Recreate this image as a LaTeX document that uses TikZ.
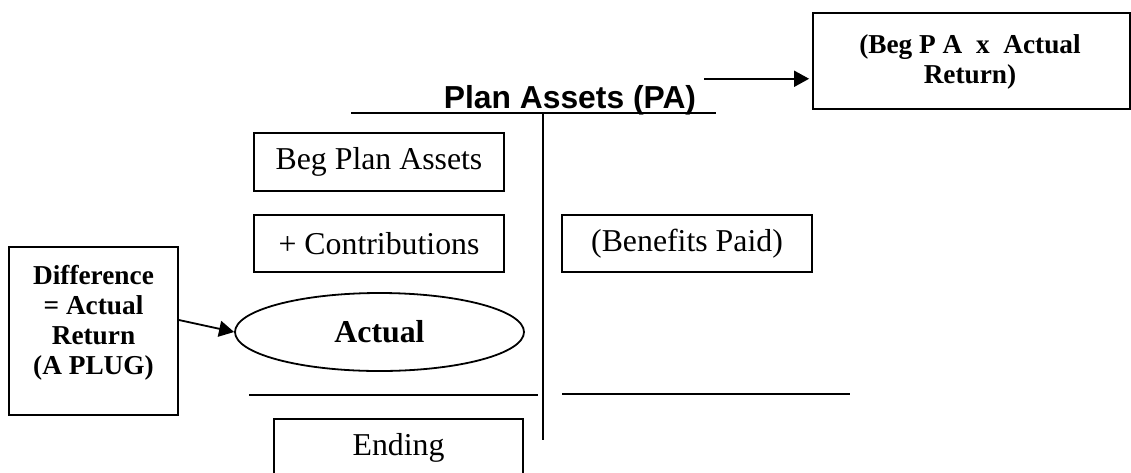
\documentclass[tikz,border=0pt]{standalone}
\usepackage{fontspec}
\setmainfont{Liberation Serif}
\setsansfont{Liberation Sans}
\usetikzlibrary{arrows.meta,shapes.geometric}
\begin{document}
\begin{tikzpicture}[x=1pt,y=-1pt,
  ink/.style={line width=1.8pt},
  entry/.style={draw, ink, rectangle, inner sep=0pt, minimum width=250pt,
    minimum height=58pt, font=\fontsize{31.8}{36}\selectfont},
  frame/.style={draw, ink, rectangle, inner sep=0pt},
  boldtxt/.style={font=\fontsize{27.3}{30}\selectfont\bfseries, align=center, inner sep=0pt},
  arr/.style={ink, -{Triangle[length=15pt,width=16pt]}},
  rulel/.style={line width=1.8pt}
]
\useasboundingbox (0,0) rectangle (1131,472);
\clip (0,0) rectangle (1131,472);
\fill[white] (0,0) rectangle (1131,472);

% T-account heading and rules
\node[font=\fontsize{31.8}{36}\selectfont\sffamily\bfseries, inner sep=0pt, anchor=base]
  (title) at (570,108) {Plan Assets (PA)};
\draw[rulel] (351,113) -- (716,113);
\draw[rulel] (543,113) -- (543,440);
\draw[rulel] (249,395) -- (538,395);
\draw[rulel] (562,394) -- (850,394);

% debit and credit entries
\node[entry] (beg) at (379,162) {Beg Plan Assets};
\node[entry, minimum height=57pt] (contrib) at (379,243.5) {+ Contributions};
\node[entry, minimum height=57pt] (benefits) at (687,243.5) {(Benefits Paid)};
\node[entry, minimum width=249pt] (ending) at (398.5,448) {Ending};

% actual return (the plug)
\node[draw, ink, ellipse, inner sep=0pt, minimum width=289pt, minimum height=78pt,
  font=\fontsize{31.8}{36}\selectfont\bfseries] (actual) at (379.5,332) {Actual};

% explanatory notes
\node[frame, minimum width=317pt, minimum height=96pt] (expret) at (971.5,61) {};
\node[boldtxt, anchor=north] (exptxt) at (970,34) {(Beg P A\ \ x\ \ Actual\\Return)};

\node[frame, minimum width=169pt, minimum height=168pt] (diff) at (93.5,331) {};
\node[boldtxt, anchor=north] (difftxt) at (93.5,265) {Difference\\= Actual\\Return\\(A PLUG)};

% connectors
\draw[arr, shorten >=11pt] ([xshift=8pt,yshift=6pt]title.north east)
  -- ([xshift=8pt,yshift=6pt]title.north east -| expret.west);
\draw[arr] ([yshift=11pt]diff.east) -- (actual.west);
\end{tikzpicture}
\end{document}
